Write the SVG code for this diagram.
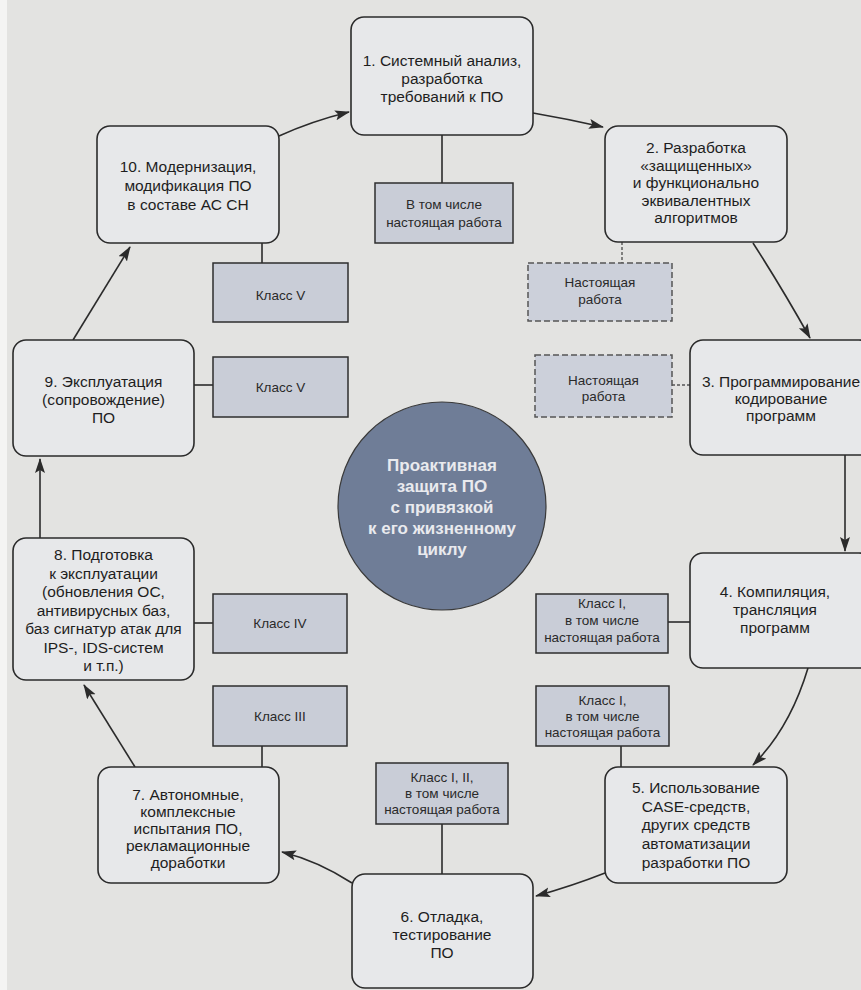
<svg xmlns="http://www.w3.org/2000/svg" width="861" height="990" viewBox="0 0 861 990">
<style>
.bg{fill:#e3e3e1}
.node rect{fill:#e7e8ea;stroke:#2b2b2b;stroke-width:1.6}
.node text{font-family:"Liberation Sans","Noto Sans",sans-serif;font-size:15.5px;fill:#1e1e1e;text-anchor:middle}
.cls rect{fill:#c9cdd7;stroke:#2e2e2e;stroke-width:1.5}
.cls text{font-family:"Liberation Sans","Noto Sans",sans-serif;font-size:13.5px;fill:#2a2a2a;text-anchor:middle}
.dash rect{fill:#ccd0da;stroke:#555;stroke-width:1.5;stroke-dasharray:6 3}
.center circle{fill:#6f7d97;stroke:#3a3a3a;stroke-width:1.2}
.center text{font-family:"Liberation Sans","Noto Sans",sans-serif;font-size:17px;font-weight:bold;fill:#e9eaee;text-anchor:middle}
.conn path{fill:none;stroke:#2b2b2b;stroke-width:1.6}
.conn .arr{marker-end:url(#ah)}
.conn .dl{stroke:#555;stroke-width:1.4;stroke-dasharray:3 2}
</style>
<defs>
<marker id="ah" markerUnits="userSpaceOnUse" markerWidth="16" markerHeight="12" refX="14" refY="5" orient="auto">
<path d="M0,0 L15,5 L0,10 L3,5 Z" fill="#2b2b2b"/>
</marker>
</defs>
<rect class="bg" x="0" y="0" width="861" height="990"/>
<rect x="0" y="0" width="7" height="990" fill="#f4f4f3"/>

<g id="connectors" class="conn">
<path class="arr" d="M279,136 Q312,121 349,112"/>
<path class="arr" d="M533,113 Q568,119 603,127"/>
<path class="arr" d="M753,243 Q782,288 810,338"/>
<path class="arr" d="M845,455 L845,551"/>
<path class="arr" d="M808,668 Q790,728 753,765"/>
<path class="arr" d="M605,873 Q572,886 536,896"/>
<path class="arr" d="M352,883 Q318,861 282,852"/>
<path class="arr" d="M135,767 L84,685"/>
<path class="arr" d="M40,538 L40,459"/>
<path class="arr" d="M73,340 L130,247"/>
<path d="M442,135 L442,183"/>
<path class="dl" d="M622,242 L622,263"/>
<path class="dl" d="M672,385 L690,385"/>
<path d="M668,622 L690,622"/>
<path d="M621,746 L621,767"/>
<path d="M442,824 L442,874"/>
<path d="M262,746 L262,767"/>
<path d="M194,623 L213,623"/>
<path d="M194,385 L213,385"/>
<path d="M262,243 L262,263"/>
</g>

<g id="n1" class="node"><rect x="351" y="17" width="182" height="118" rx="13"/>
<text x="442" y="66">1. Системный анализ,</text><text x="442" y="84">разработка</text><text x="442" y="102">требований к ПО</text></g>
<g id="n2" class="node"><rect x="605" y="126" width="182" height="116" rx="13"/>
<text x="696" y="153">2. Разработка</text><text x="696" y="170.5">«защищенных»</text><text x="696" y="188">и функционально</text><text x="696" y="205.5">эквивалентных</text><text x="696" y="223">алгоритмов</text></g>
<g id="n3" class="node"><rect x="690" y="340" width="182" height="115" rx="13"/>
<text x="781" y="387">3. Программирование</text><text x="781" y="404">кодирование</text><text x="781" y="421">программ</text></g>
<g id="n4" class="node"><rect x="690" y="553" width="182" height="115" rx="13"/>
<text x="775" y="597">4. Компиляция,</text><text x="775" y="615">трансляция</text><text x="775" y="633">программ</text></g>
<g id="n5" class="node"><rect x="605" y="767" width="182" height="116" rx="13"/>
<text x="696" y="793">5. Использование</text><text x="696" y="812">CASE-средств,</text><text x="696" y="830">других средств</text><text x="696" y="849">автоматизации</text><text x="696" y="868">разработки ПО</text></g>
<g id="n6" class="node"><rect x="352" y="874" width="181" height="114" rx="13"/>
<text x="442" y="922">6. Отладка,</text><text x="442" y="940">тестирование</text><text x="442" y="958">ПО</text></g>
<g id="n7" class="node"><rect x="98" y="767" width="181" height="116" rx="13"/>
<text x="188" y="800">7. Автономные,</text><text x="188" y="817">комплексные</text><text x="188" y="834">испытания ПО,</text><text x="188" y="851">рекламационные</text><text x="188" y="868">доработки</text></g>
<g id="n8" class="node"><rect x="13" y="538" width="181" height="142" rx="13"/>
<text x="103.5" y="560">8. Подготовка</text><text x="103.5" y="578.5">к эксплуатации</text><text x="103.5" y="597">(обновления  ОС,</text><text x="103.5" y="615.5">антивирусных баз,</text><text x="103.5" y="634">баз сигнатур атак для</text><text x="103.5" y="652.5">IPS-, IDS-систем</text><text x="103.5" y="671">и т.п.)</text></g>
<g id="n9" class="node"><rect x="13" y="340" width="181" height="116" rx="13"/>
<text x="103.5" y="387">9. Эксплуатация</text><text x="103.5" y="405">(сопровождение)</text><text x="103.5" y="423">ПО</text></g>
<g id="n10" class="node"><rect x="97" y="126" width="182" height="117" rx="13"/>
<text x="188" y="172">10. Модернизация,</text><text x="188" y="191">модификация ПО</text><text x="188" y="210">в составе АС СН</text></g>

<g id="c1" class="cls"><rect x="375" y="183" width="138" height="60"/>
<text x="444" y="209">В том числе</text><text x="444" y="227">настоящая работа</text></g>
<g id="d2" class="dash"><rect x="528" y="263" width="144" height="58"/>
<text class="t" x="600" y="287" style="font-family:'Liberation Sans','Noto Sans',sans-serif;font-size:13.5px;fill:#2a2a2a;text-anchor:middle">Настоящая</text><text x="600" y="304" style="font-family:'Liberation Sans','Noto Sans',sans-serif;font-size:13.5px;fill:#2a2a2a;text-anchor:middle">работа</text></g>
<g id="d3" class="dash"><rect x="535" y="355" width="137" height="62"/>
<text x="603.5" y="385" style="font-family:'Liberation Sans','Noto Sans',sans-serif;font-size:13.5px;fill:#2a2a2a;text-anchor:middle">Настоящая</text><text x="603.5" y="401" style="font-family:'Liberation Sans','Noto Sans',sans-serif;font-size:13.5px;fill:#2a2a2a;text-anchor:middle">работа</text></g>
<g id="c4" class="cls"><rect x="536" y="594" width="132" height="59"/>
<text x="602" y="608">Класс I,</text><text x="602" y="625">в том числе</text><text x="602" y="642">настоящая работа</text></g>
<g id="c5" class="cls"><rect x="536" y="686" width="133" height="60"/>
<text x="602.5" y="705">Класс I,</text><text x="602.5" y="721">в том числе</text><text x="602.5" y="737">настоящая работа</text></g>
<g id="c6" class="cls"><rect x="376" y="763" width="132" height="61"/>
<text x="442" y="782">Класс I, II,</text><text x="442" y="798">в том числе</text><text x="442" y="814">настоящая работа</text></g>
<g id="c7" class="cls"><rect x="213" y="686" width="134" height="60"/>
<text x="280" y="721">Класс III</text></g>
<g id="c8" class="cls"><rect x="213" y="594" width="134" height="59"/>
<text x="280" y="628">Класс IV</text></g>
<g id="c9" class="cls"><rect x="213" y="357" width="135" height="60"/>
<text x="280.5" y="392">Класс V</text></g>
<g id="c10" class="cls"><rect x="213" y="263" width="135" height="59"/>
<text x="280.5" y="300">Класс V</text></g>

<g id="center" class="center"><circle cx="442" cy="506" r="104"/>
<text x="442" y="471">Проактивная</text><text x="442" y="492">защита ПО</text><text x="442" y="513">с привязкой</text><text x="442" y="534">к его жизненному</text><text x="442" y="555">циклу</text></g>
</svg>
